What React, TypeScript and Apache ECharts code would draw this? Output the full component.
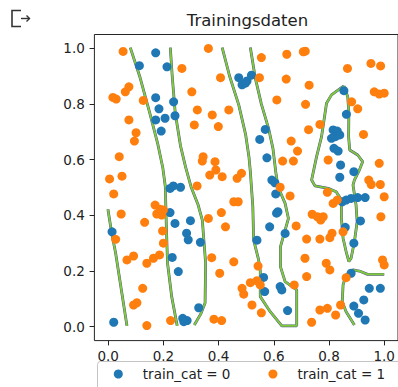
import React, { useEffect, useRef } from "react";
import * as echarts from "echarts";

const FONT = "DejaVu Sans";
const TITLE = "Trainingsdaten";
const SERIES_NAMES = ["train_cat = 0", "train_cat = 1"];
const TICKS = [0, 0.2, 0.4, 0.6, 0.8, 1.0];

const cat0: number[][] = [
  [0.020, 0.016], [0.014, 0.341], [0.113, 0.938], [0.172, 0.984], [0.213, 0.934],
  [0.172, 0.823], [0.184, 0.783], [0.172, 0.743], [0.206, 0.749], [0.192, 0.703],
  [0.237, 0.808], [0.242, 0.758], [0.224, 0.497], [0.236, 0.506], [0.262, 0.501],
  [0.224, 0.410], [0.242, 0.371], [0.298, 0.381], [0.284, 0.336], [0.290, 0.312],
  [0.334, 0.303], [0.232, 0.249], [0.254, 0.198], [0.270, 0.030], [0.286, 0.022],
  [0.274, 0.018], [0.328, 0.068], [0.473, 0.895], [0.485, 0.869], [0.503, 0.883],
  [0.519, 0.904], [0.497, 0.875], [0.569, 0.709], [0.549, 0.673], [0.575, 0.607],
  [0.593, 0.527], [0.604, 0.517], [0.607, 0.477], [0.615, 0.413], [0.610, 0.408],
  [0.585, 0.359], [0.641, 0.335], [0.539, 0.311], [0.563, 0.177], [0.567, 0.126],
  [0.623, 0.144], [0.629, 0.132], [0.650, 0.058], [0.854, 0.848], [0.863, 0.763],
  [0.815, 0.707], [0.830, 0.703], [0.809, 0.677], [0.823, 0.683], [0.839, 0.689],
  [0.818, 0.641], [0.833, 0.631], [0.842, 0.581], [0.839, 0.537], [0.890, 0.557],
  [0.848, 0.449], [0.862, 0.455], [0.880, 0.461], [0.904, 0.464], [0.931, 0.464],
  [0.914, 0.380], [0.859, 0.357], [0.890, 0.300], [0.880, 0.192], [0.946, 0.138],
  [0.986, 0.138], [0.926, 0.096], [0.890, 0.074], [0.907, 0.048], [0.931, 0.024],
];

const cat1: number[][] = [
  [0.054, 0.989], [0.017, 0.824], [0.029, 0.818], [0.062, 0.844], [0.075, 0.862],
  [0.127, 0.813], [0.075, 0.743], [0.101, 0.697], [0.095, 0.667], [0.040, 0.611],
  [0.005, 0.531], [0.050, 0.541], [0.020, 0.477], [0.047, 0.405], [0.132, 0.375],
  [0.027, 0.314], [0.068, 0.240], [0.092, 0.254], [0.140, 0.228], [0.164, 0.246],
  [0.186, 0.258], [0.125, 0.138], [0.092, 0.078], [0.104, 0.086], [0.140, 0.004],
  [0.170, 0.437], [0.188, 0.422], [0.200, 0.419], [0.176, 0.405], [0.194, 0.401],
  [0.197, 0.344], [0.200, 0.300], [0.226, 0.022], [0.267, 0.928], [0.303, 0.844],
  [0.323, 0.779], [0.312, 0.725], [0.363, 1.000], [0.377, 0.761], [0.399, 0.719],
  [0.407, 0.895], [0.437, 0.779], [0.344, 0.611], [0.341, 0.595], [0.387, 0.593],
  [0.390, 0.563], [0.368, 0.545], [0.413, 0.539], [0.322, 0.506], [0.467, 0.533],
  [0.483, 0.551], [0.363, 0.389], [0.410, 0.410], [0.425, 0.359], [0.455, 0.449],
  [0.471, 0.449], [0.375, 0.248], [0.404, 0.192], [0.455, 0.233], [0.383, 0.027],
  [0.411, 0.022], [0.485, 0.138], [0.491, 0.117], [0.521, 0.078], [0.555, 0.050],
  [0.515, 0.158], [0.539, 0.165], [0.551, 0.150], [0.543, 0.218], [0.555, 0.967],
  [0.548, 0.895], [0.647, 0.979], [0.707, 0.988], [0.714, 0.990], [0.645, 0.890],
  [0.728, 0.868], [0.611, 0.815], [0.715, 0.799], [0.726, 0.708], [0.767, 0.727],
  [0.663, 0.667], [0.686, 0.631], [0.632, 0.595], [0.671, 0.595], [0.623, 0.501],
  [0.659, 0.470], [0.681, 0.362], [0.719, 0.315], [0.739, 0.404], [0.758, 0.395],
  [0.779, 0.395], [0.770, 0.383], [0.767, 0.315], [0.803, 0.320], [0.811, 0.336],
  [0.851, 0.341], [0.713, 0.246], [0.719, 0.180], [0.790, 0.228], [0.803, 0.204],
  [0.674, 0.150], [0.737, 0.016], [0.767, 0.060], [0.794, 0.066], [0.824, 0.042],
  [0.842, 0.078], [0.862, 0.176], [0.794, 0.483], [0.797, 0.599], [0.815, 0.443],
  [0.830, 0.455], [0.867, 0.928], [0.952, 0.946], [0.987, 0.937], [0.882, 0.808],
  [0.904, 0.783], [0.964, 0.844], [0.982, 0.836], [1.000, 0.839], [0.925, 0.691],
  [0.982, 0.587], [0.944, 0.527], [0.953, 0.511], [0.986, 0.511], [1.000, 0.467],
  [0.988, 0.395], [0.994, 0.240], [1.000, 0.222],
];

// decision boundary contour lines
const boundary1: number[][] = [
  [-0.001, 0.422], [0.012, 0.34], [0.027, 0.264], [0.048, 0.13], [0.068, 0.003],
];
const boundary2: number[][] = [
  [0.080, 1.003], [0.114, 0.9], [0.150, 0.77], [0.180, 0.655], [0.198, 0.57],
  [0.207, 0.503], [0.210, 0.383], [0.215, 0.228], [0.230, 0.108], [0.250, 0.003],
];
const boundary3: number[][] = [
  [0.225, 1.003], [0.232, 0.9], [0.243, 0.767], [0.262, 0.65], [0.280, 0.575],
  [0.300, 0.503], [0.325, 0.44], [0.341, 0.383], [0.353, 0.228], [0.351, 0.085],
  [0.335, 0.045], [0.312, 0.006],
];
const boundary4: number[][] = [
  [0.413, 1.003], [0.440, 0.9], [0.473, 0.797], [0.498, 0.69], [0.510, 0.61],
  [0.515, 0.557], [0.524, 0.431], [0.527, 0.311], [0.545, 0.24], [0.551, 0.2],
  [0.551, 0.108], [0.587, 0.054], [0.629, 0.003], [0.683, 0.003], [0.683, 0.132],
  [0.641, 0.162], [0.624, 0.216], [0.624, 0.287], [0.653, 0.389], [0.641, 0.443],
  [0.615, 0.503], [0.607, 0.557], [0.597, 0.64], [0.581, 0.713], [0.555, 0.8],
  [0.533, 0.893], [0.515, 1.003],
];
const boundary5: number[][] = [
  [0.854, 0.865], [0.868, 0.826], [0.872, 0.767], [0.871, 0.683], [0.875, 0.635],
  [0.904, 0.617], [0.922, 0.593], [0.910, 0.563], [0.892, 0.527], [0.887, 0.509],
  [0.898, 0.437], [0.902, 0.377], [0.892, 0.305], [0.880, 0.246], [0.872, 0.234],
  [0.862, 0.270], [0.851, 0.318], [0.845, 0.389], [0.845, 0.455], [0.826, 0.485],
  [0.797, 0.497], [0.749, 0.506], [0.737, 0.527], [0.755, 0.611], [0.773, 0.683],
  [0.782, 0.743], [0.791, 0.803], [0.809, 0.833], [0.854, 0.865],
];
const boundary6: number[][] = [
  [1.0, 0.188], [0.940, 0.188], [0.910, 0.200], [0.887, 0.204], [0.862, 0.186],
  [0.851, 0.150], [0.848, 0.090], [0.862, 0.054], [0.892, 0.006],
];
const boundaries = [boundary1, boundary2, boundary3, boundary4, boundary5, boundary6];

const BLUE = "#1f77b4";
const ORANGE = "#ff7f0e";
const GREEN = "#7fc93c";
const DARK = "#50508a";
const TEXT = "#222";

export default function App() {
  const ref = useRef<HTMLDivElement>(null);
  useEffect(() => {
    if (!ref.current) return;
    const chart = echarts.init(ref.current, undefined, { renderer: "svg" });
    const lineSeries: any[] = [];
    boundaries.forEach((b) => {
      lineSeries.push({
        type: "line", data: b, showSymbol: false, silent: true, z: 1,
        lineStyle: { color: DARK, width: 2.8 }, clip: true,
      });
      lineSeries.push({
        type: "line", data: b, showSymbol: false, silent: true, z: 2,
        lineStyle: { color: GREEN, width: 2 }, clip: true,
      });
    });
    const axisCommon = {
      type: "value",
      min: -0.05,
      max: 1.05,
      splitLine: { show: false },
      axisLine: { show: false, onZero: false },
      axisTick: {
        show: true, length: 4.8, customValues: TICKS,
        lineStyle: { color: TEXT, width: 1 },
      },
    };
    chart.setOption({
      animation: false,
      title: {
        text: TITLE, left: 247.5, top: 10, textAlign: "center", padding: 0,
        textStyle: { fontFamily: FONT, fontSize: 16.5, fontWeight: "normal", color: TEXT, lineHeight: 20 },
      },
      grid: {
        left: 94.4, top: 34.5, width: 306.1, height: 306.1,
        show: true, borderColor: "#262626", borderWidth: 1, backgroundColor: "transparent",
      },
      xAxis: {
        ...axisCommon,
        axisLabel: {
          customValues: TICKS, formatter: (v: number) => v.toFixed(1), margin: 8,
          fontFamily: FONT, fontSize: 13.5, color: TEXT,
        },
      },
      yAxis: {
        ...axisCommon,
        axisLabel: {
          customValues: TICKS, formatter: (v: number) => v.toFixed(1), margin: 9.6,
          fontFamily: FONT, fontSize: 13.5, color: TEXT,
        },
      },
      legend: {
        data: SERIES_NAMES, left: 113.8, top: 366, padding: 0, z: 20,
        itemWidth: 9, itemHeight: 9, itemGap: 38, icon: "circle",
        textStyle: {
          fontFamily: FONT, fontSize: 13.5, color: TEXT, lineHeight: 16,
          padding: [0, 0, 0, 15],
        },
      },
      graphic: [
        {
          type: "rect", z: 15,
          shape: { x: 97.5, y: 361.5, width: 320, height: 40, r: 3 },
          style: { fill: "rgba(255,255,255,0.8)", stroke: "#c4c4c4", lineWidth: 1 },
        },
        {
          type: "polyline", z: 5,
          shape: { points: [[21, 10.5], [12, 10.5], [12, 26.5], [21, 26.5]] },
          style: { fill: "none", stroke: "#333", lineWidth: 1.6 },
        },
        {
          type: "polyline", z: 5,
          shape: { points: [[21, 18.5], [29.5, 18.5]] },
          style: { fill: "none", stroke: "#333", lineWidth: 1.4 },
        },
        {
          type: "polyline", z: 5,
          shape: { points: [[26.5, 15.5], [29.5, 18.5], [26.5, 21.5]] },
          style: { fill: "none", stroke: "#333", lineWidth: 1.4 },
        },
      ],
      series: [
        ...lineSeries,
        {
          name: SERIES_NAMES[0], type: "scatter", data: cat0, symbolSize: 9, z: 3,
          itemStyle: { color: BLUE, opacity: 1 },
        },
        {
          name: SERIES_NAMES[1], type: "scatter", data: cat1, symbolSize: 9, z: 3,
          itemStyle: { color: ORANGE, opacity: 1 },
        },
      ],
    });
    return () => chart.dispose();
  }, []);
  return (
    <div
      ref={ref}
      style={{ position: "absolute", left: 0, top: 0, width: 398, height: 387 }}
    />
  );
}
